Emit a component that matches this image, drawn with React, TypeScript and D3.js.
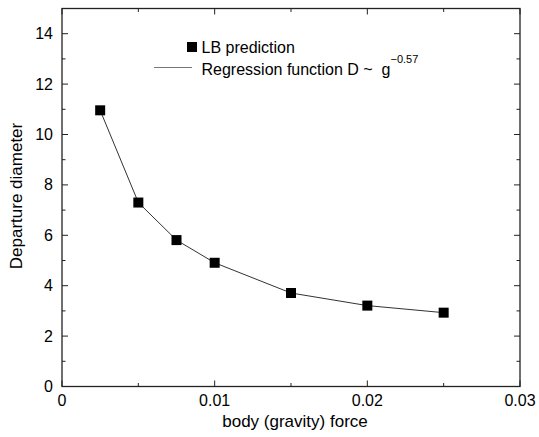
import React from "react";
import * as d3 from "d3";

const gravity = [0.0025, 0.005, 0.0075, 0.01, 0.015, 0.02, 0.025];
const diameter = [10.96, 7.3, 5.81, 4.91, 3.71, 3.21, 2.93];
const xTicks = [0, 0.01, 0.02, 0.03];
const xMinor = [0.005, 0.015, 0.025];
const yTicks = [0, 2, 4, 6, 8, 10, 12, 14];
const yMinor = [1, 3, 5, 7, 9, 11, 13];

const W = 539, H = 437;
const L = 62, R = 520, T = 8.5, B = 386.5;
const font = "'Liberation Sans', Arial, Helvetica, sans-serif";

export default function App() {
  const x = d3.scaleLinear().domain([0, 0.03]).range([L, R]);
  const y = d3.scaleLinear().domain([0, 15]).range([B, T]);
  const line = d3.line<number>().x((_, i) => x(gravity[i])).y((d) => y(d));
  const ink = "#222";
  const maj = 6, min = 3.5;
  return (
    <svg width={W} height={H} style={{ position: "absolute", left: 0, top: 0, background: "#fff" }} fontFamily={font}>
      <rect x={L} y={T} width={R - L} height={B - T} fill="none" stroke={ink} strokeWidth={1.3} />
      {xTicks.concat(xMinor).map((t, i) => {
        const len = xTicks.includes(t) ? maj : min;
        return (
          <g key={"xt" + i} stroke={ink} strokeWidth={1}>
            <line x1={x(t)} x2={x(t)} y1={B} y2={B - len} />
            <line x1={x(t)} x2={x(t)} y1={T} y2={T + len} />
          </g>
        );
      })}
      {yTicks.concat(yMinor).map((t, i) => {
        const len = yTicks.includes(t) ? maj : min;
        return (
          <g key={"yt" + i} stroke={ink} strokeWidth={1}>
            <line x1={L} x2={L + len} y1={y(t)} y2={y(t)} />
            <line x1={R} x2={R - len} y1={y(t)} y2={y(t)} />
          </g>
        );
      })}
      {xTicks.map((t) => (
        <text key={"xl" + t} x={x(t)} y={406} textAnchor="middle" fontSize={16} fill="#000">
          {t === 0 ? "0" : String(t)}
        </text>
      ))}
      {yTicks.map((t) => (
        <text key={"yl" + t} x={L - 9} y={y(t) + 5.5} textAnchor="end" fontSize={16} fill="#000">
          {t}
        </text>
      ))}
      <text x={295} y={427} textAnchor="middle" fontSize={17} fill="#000">body (gravity) force</text>
      <text transform={`translate(22,196) rotate(-90)`} textAnchor="middle" fontSize={17} fill="#000">
        Departure diameter
      </text>
      <path d={line(diameter) || ""} fill="none" stroke="#333" strokeWidth={1} />
      {diameter.map((d, i) => (
        <rect key={"p" + i} x={x(gravity[i]) - 5} y={y(d) - 5} width={10} height={10} fill="#000" />
      ))}
      <rect x={187} y={42} width={10} height={10} fill="#000" />
      <text x={201.5} y={53} fontSize={16} fill="#000">LB prediction</text>
      <line x1={154} x2={192} y1={67.5} y2={67.5} stroke="#777" strokeWidth={1} />
      <text x={201.5} y={75} fontSize={16} fill="#000">
        {"Regression function D ~\u00a0\u00a0g"}
        <tspan dy={-12} fontSize={11}>−0.57</tspan>
      </text>
    </svg>
  );
}
